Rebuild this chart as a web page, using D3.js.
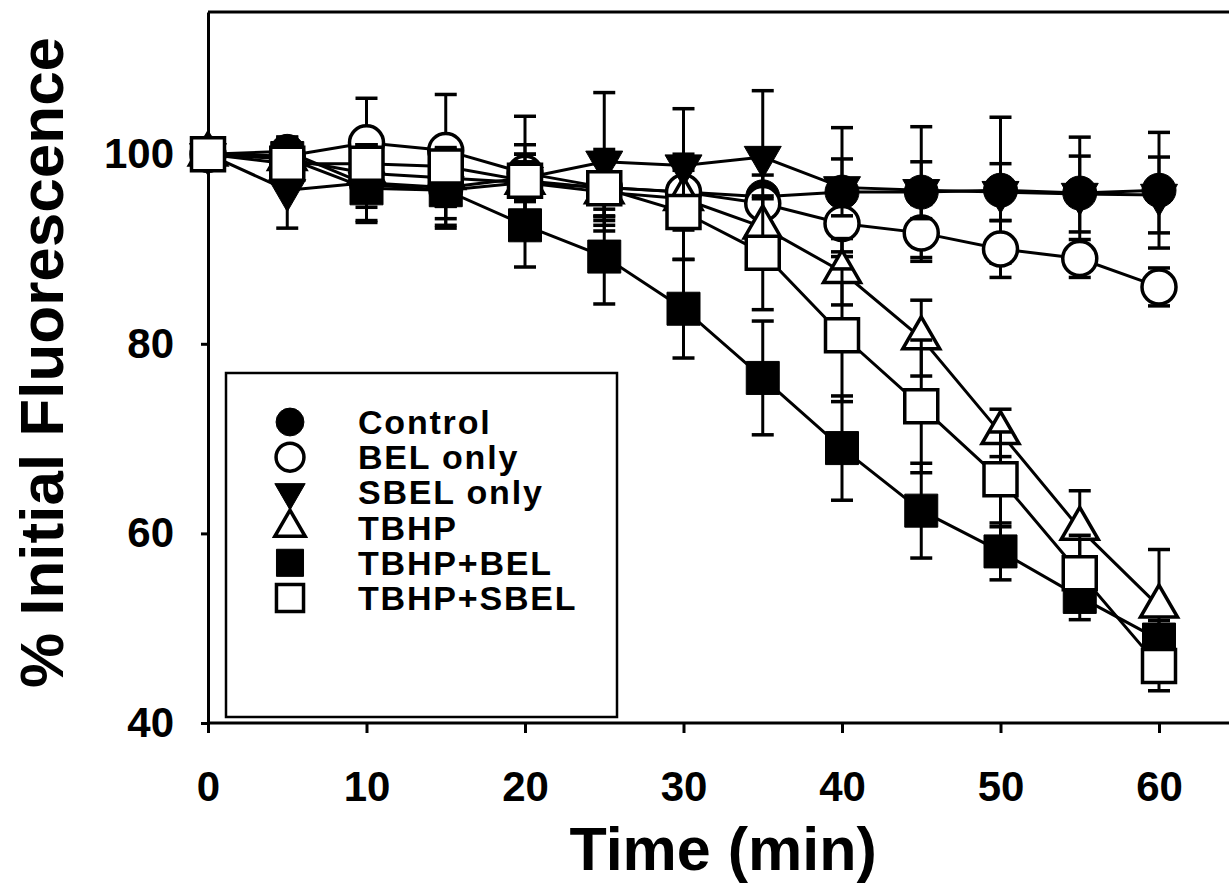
<!DOCTYPE html>
<html>
<head>
<meta charset="utf-8">
<script src="https://cdn.jsdelivr.net/npm/d3@7"></script>
<style>
  html, body { margin: 0; padding: 0; background: #fff; }
  svg { display: block; }
  text { font-family: "Liberation Sans", Arial, Helvetica, sans-serif; font-weight: bold; fill: #000; }
</style>
</head>
<body>
<svg id="chart" width="1229" height="887"></svg>
<script>
// ---- data ----
const times = [0, 5, 10, 15, 20, 25, 30, 35, 40, 45, 50, 55, 60];
const seriesNames = ["Control", "BEL only", "SBEL only", "TBHP", "TBHP+BEL", "TBHP+SBEL"];
const control     = [100, 100.3, 96.8, 96.2, 97.0, 96.5, 96.0, 95.5, 96.0, 96.0, 96.2, 95.9, 96.2];
const controlErr  = [0, 1.5, 4, 4, 3, 4, 4, 4, 6.8, 6.9, 7.7, 5.9, 6.1];
const belOnly     = [100, 99.8, 101.2, 100.4, 98.0, 96.5, 96.0, 94.8, 92.7, 91.7, 90.0, 89.0, 86.0];
const belOnlyErr  = [0, 2, 4.7, 5.9, 3, 3, 3, 3, 3, 3, 3, 2, 2];
const sbelOnly    = [100, 96.2, 97.0, 96.5, 97.5, 99.2, 98.8, 99.7, 96.5, 96.2, 96.0, 95.8, 95.7];
const sbelOnlyErr = [0, 4, 4, 4, 6.5, 7.3, 6, 7, 3, 3, 3, 4, 4];
const tbhp        = [100, 99.5, 98.0, 97.5, 97.0, 96.0, 95.3, 92.3, 87.6, 80.6, 70.6, 60.5, 52.3];
const tbhpErr     = [0, 2, 3, 3, 3, 3, 3, 3, 3.5, 4, 2.5, 4, 6];
const tbhpBel     = [100, 99.6, 96.4, 96.2, 92.5, 89.2, 83.7, 76.4, 69.0, 62.4, 58.1, 53.3, 48.8];
const tbhpBelErr  = [0, 1, 2, 3, 4.4, 5, 5.2, 6, 5.5, 5, 3, 2.4, 2];
const tbhpSbel    = [100, 99.0, 99.0, 98.7, 97.2, 96.4, 93.9, 89.6, 80.9, 73.4, 65.7, 55.8, 46.0];
const tbhpSbelErr = [0, 1, 2, 2, 2, 3, 5, 6, 7, 7, 5, 4, 2.6];
const xTicks = [0, 10, 20, 30, 40, 50, 60];
const yTicks = [40, 60, 80, 100];
const xTitle = "Time (min)";
const yTitle = "% Initial Fluorescence";

// ---- styling (not data) ----
const markers = [
  { shape: "circle",   filled: true  },
  { shape: "circle",   filled: false },
  { shape: "triDown",  filled: true  },
  { shape: "triUp",    filled: false },
  { shape: "square",   filled: true  },
  { shape: "square",   filled: false }
];
const values = [control, belOnly, sbelOnly, tbhp, tbhpBel, tbhpSbel];
const errors = [controlErr, belOnlyErr, sbelOnlyErr, tbhpErr, tbhpBelErr, tbhpSbelErr];

const svg = d3.select("#chart");
const x = d3.scaleLinear().domain([0, 65]).range([208, 208 + 65 * 15.85]);
const y = d3.scaleLinear().domain([40, 115]).range([723, 12]);

function symbolPath(shape, scale) {
  const s = scale || 1;
  if (shape === "circle") return d3.symbol(d3.symbolCircle, Math.PI * Math.pow(17 * s, 2))();
  if (shape === "square") return d3.symbol(d3.symbolSquare, Math.pow(33 * s, 2))();
  const side = 37 * s;
  return d3.symbol(d3.symbolTriangle, Math.sqrt(3) / 4 * side * side)();
}
function drawMarker(g, m, cx, cy, scale) {
  return g.append("path")
    .attr("d", symbolPath(m.shape, scale))
    .attr("transform", `translate(${cx},${cy})` + (m.shape === "triDown" ? " rotate(180)" : ""))
    .attr("fill", m.filled ? "#000" : "#fff")
    .attr("stroke", "#000")
    .attr("stroke-width", m.filled ? 1 : 3.5)
    .attr("stroke-linejoin", "miter");
}

// frame: top line
svg.append("line").attr("x1", x(0)).attr("x2", 1229).attr("y1", y(115)).attr("y2", y(115))
  .attr("stroke", "#000").attr("stroke-width", 3);

// axes
const xAxis = d3.axisBottom(x).tickValues(xTicks).tickFormat(d3.format("d")).tickSize(10).tickPadding(38).tickSizeOuter(0);
const yAxis = d3.axisLeft(y).tickValues(yTicks).tickFormat(d3.format("d")).tickSize(7).tickPadding(27).tickSizeOuter(0);
const gx = svg.append("g").attr("transform", `translate(0,${y(40)})`).call(xAxis);
const gy = svg.append("g").attr("transform", `translate(${x(0)},0)`).call(yAxis);
[gx, gy].forEach(g => {
  g.select(".domain").attr("stroke", "#000").attr("stroke-width", 3);
  g.selectAll(".tick line").attr("stroke", "#000").attr("stroke-width", 3);
  g.selectAll(".tick text").attr("font-size", 42).attr("font-weight", "bold")
    .attr("font-family", '"Liberation Sans", Arial, sans-serif').attr("fill", "#000");
});
gx.select(".domain").attr("d", `M${x(0)},0H1229`);

// axis titles
svg.append("text").attr("x", (x(0) + x(65)) / 2).attr("y", 870)
  .attr("text-anchor", "middle").attr("font-size", 61).text(xTitle);
svg.append("text").attr("transform", `translate(63,${(y(40) + y(115)) / 2 - 5}) rotate(-90)`)
  .attr("text-anchor", "middle").attr("font-size", 62).text(yTitle);

// series
const line = d3.line().x((d, i) => x(times[i])).y(d => y(d));
values.forEach((vals, si) => {
  const g = svg.append("g").attr("class", "series");
  g.append("path").datum(vals).attr("d", line).attr("fill", "none")
    .attr("stroke", "#000").attr("stroke-width", 3);
  vals.forEach((v, i) => {
    const e = errors[si][i];
    if (e > 0) {
      const cx = x(times[i]);
      g.append("line").attr("x1", cx).attr("x2", cx).attr("y1", y(v - e)).attr("y2", y(v + e))
        .attr("stroke", "#000").attr("stroke-width", 3);
      [v - e, v + e].forEach(ev => {
        g.append("line").attr("x1", cx - 11).attr("x2", cx + 11).attr("y1", y(ev)).attr("y2", y(ev))
          .attr("stroke", "#000").attr("stroke-width", 3.5);
      });
    }
  });
  vals.forEach((v, i) => drawMarker(g, markers[si], x(times[i]), y(v), 1));
});

// legend
const lg = svg.append("g").attr("class", "legend");
lg.append("rect").attr("x", 226).attr("y", 373).attr("width", 391).attr("height", 344)
  .attr("fill", "#fff").attr("stroke", "#000").attr("stroke-width", 2.5);
seriesNames.forEach((name, i) => {
  const cy = 422 + i * 35.2;
  drawMarker(lg, markers[i], 290, cy, 0.82);
  lg.append("text").attr("x", 358).attr("y", cy + 12).attr("font-size", 34)
    .attr("letter-spacing", 1.8).text(name);
});
</script>
</body>
</html>
